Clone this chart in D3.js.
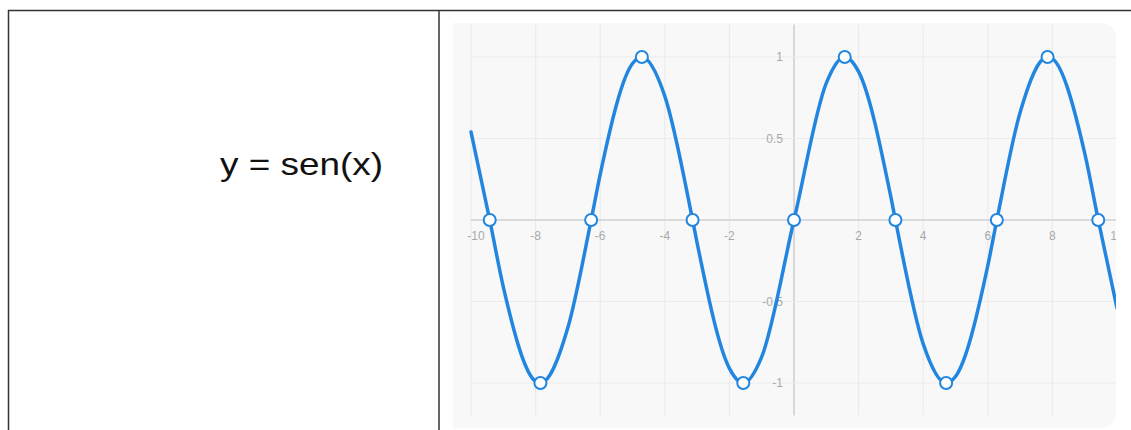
<!DOCTYPE html>
<html>
<head>
<meta charset="utf-8">
<script src="https://cdnjs.cloudflare.com/ajax/libs/d3/7.8.5/d3.min.js"></script>
<style>
    html, body { margin: 0; padding: 0; background: #fff; }
    svg { display: block; }
</style>
</head>
<body>
<div id="svg1"></div>
<script>
// valeurs
var formula = "y = sen(x)";
var xTicks = [-10, -8, -6, -4, -2, 2, 4, 6, 8, 10];
var yTicks = [1, 0.5, -0.5, -1];
var gridX = [-10, -8, -6, -4, -2, 0, 2, 4, 6, 8, 10];
var gridY = [1, 0.5, 0, -0.5, -1];

// points marqués (zéros, maxima, minima)
var markX = [-9.42, -7.85, -6.28, -4.71, -3.14, -1.57, 0, 1.57, 3.14, 4.71, 6.28, 7.85, 9.42];
var markY = [0, -1, 0, 1, 0, -1, 0, 1, 0, -1, 0, 1, 0];

// points de la courbe lus aux abscisses entières
var curveX = [-10, -9, -8, -7, -6, -5, -4, -3, -2, -1, 0, 1, 2, 3, 4, 5, 6, 7, 8, 9, 10];
var curveY = [0.54, -0.41, -0.99, -0.66, 0.28, 0.96, 0.76, -0.14, -0.91, -0.84, 0, 0.84, 0.91, 0.14, -0.76, -0.96, -0.28, 0.66, 0.99, 0.41, -0.54];

var W = 1131, H = 430;

var svg = d3.select("#svg1")
    .append("svg")
    .attr("width", W)
    .attr("height", H);

/*----------------------------- tableau ------------------------------*/
var border = svg.append("g")
    .attr("stroke", "#333")
    .attr("stroke-width", 1.5);
border.append("line").attr("x1", 8).attr("x2", W).attr("y1", 10.5).attr("y2", 10.5);
border.append("line").attr("x1", 8.5).attr("x2", 8.5).attr("y1", 10).attr("y2", H);
border.append("line").attr("x1", 439).attr("x2", 439).attr("y1", 10).attr("y2", H);

svg.append("text")
    .attr("x", 220)
    .attr("y", 175)
    .attr("textLength", 163)
    .attr("lengthAdjust", "spacingAndGlyphs")
    .style("font-family", "Arial, 'Liberation Sans', sans-serif")
    .style("font-size", "32px")
    .attr("fill", "#111")
    .text(formula);

/*----------------------------- graphique ----------------------------*/
var panel = {left: 453, top: 23, right: 1116, bottom: 428, r: 14};

// fond avec coins arrondis à droite
var p = d3.path();
p.moveTo(panel.left, panel.top);
p.lineTo(panel.right - panel.r, panel.top);
p.arcTo(panel.right, panel.top, panel.right, panel.top + panel.r, panel.r);
p.lineTo(panel.right, panel.bottom - panel.r);
p.arcTo(panel.right, panel.bottom, panel.right - panel.r, panel.bottom, panel.r);
p.lineTo(panel.left, panel.bottom);
p.closePath();

svg.append("clipPath").attr("id", "clip")
    .append("path").attr("d", p.toString());

var chart = svg.append("g").attr("clip-path", "url(#clip)");

chart.append("path")
    .attr("d", p.toString())
    .attr("fill", "#f8f8f8");

var x = d3.scaleLinear()
    .domain([-10, 10])
    .range([471, 1117]);

var y = d3.scaleLinear()
    .domain([-1.2, 1.2])
    .range([415.6, 24.4]);

// grille
chart.append("g")
    .selectAll("line")
    .data(gridX)
    .enter().append("line")
    .attr("x1", function(d) { return x(d); })
    .attr("x2", function(d) { return x(d); })
    .attr("y1", y(1.2))
    .attr("y2", y(-1.2))
    .attr("stroke", function(d) { return d === 0 ? "#d0d0d0" : "#ebebeb"; })
    .attr("stroke-width", function(d) { return d === 0 ? 1.6 : 1.2; });

chart.append("g")
    .selectAll("line")
    .data(gridY)
    .enter().append("line")
    .attr("x1", x(-10))
    .attr("x2", x(10))
    .attr("y1", function(d) { return y(d); })
    .attr("y2", function(d) { return y(d); })
    .attr("stroke", function(d) { return d === 0 ? "#d0d0d0" : "#ebebeb"; })
    .attr("stroke-width", function(d) { return d === 0 ? 1.6 : 1.2; });

// étiquettes des axes
chart.append("g")
    .selectAll("text")
    .data(xTicks)
    .enter().append("text")
    .attr("x", function(d) { return x(d) + (d === -10 ? 5 : 0); })
    .attr("y", y(0) + 20)
    .attr("text-anchor", "middle")
    .style("font-family", "Helvetica, Arial, 'Liberation Sans', sans-serif")
    .style("font-size", "12px")
    .attr("fill", "#a8a8a8")
    .text(function(d) { return d; });

chart.append("g")
    .selectAll("text")
    .data(yTicks)
    .enter().append("text")
    .attr("x", x(0) - 11)
    .attr("y", function(d) { return y(d) + 4; })
    .attr("text-anchor", "end")
    .style("font-family", "Helvetica, Arial, 'Liberation Sans', sans-serif")
    .style("font-size", "12px")
    .attr("fill", "#a8a8a8")
    .text(function(d) { return d; });

// courbe
var pts = curveX.map(function(d, i) { return [d, curveY[i]]; })
    .concat(markX.map(function(d, i) { return [d, markY[i]]; }))
    .sort(function(a, b) { return a[0] - b[0]; });

var line = d3.line()
    .x(function(d) { return x(d[0]); })
    .y(function(d) { return y(d[1]); })
    .curve(d3.curveMonotoneX);

chart.append("path")
    .datum(pts)
    .attr("d", line)
    .attr("fill", "none")
    .attr("stroke", "#2286e0")
    .attr("stroke-width", 3.5)
    .attr("stroke-linecap", "round");

chart.append("g")
    .selectAll("circle")
    .data(markX)
    .enter().append("circle")
    .attr("cx", function(d) { return x(d); })
    .attr("cy", function(d, i) { return y(markY[i]); })
    .attr("r", 6)
    .attr("fill", "#fff")
    .attr("stroke", "#2286e0")
    .attr("stroke-width", 2);
</script>
</body>
</html>
